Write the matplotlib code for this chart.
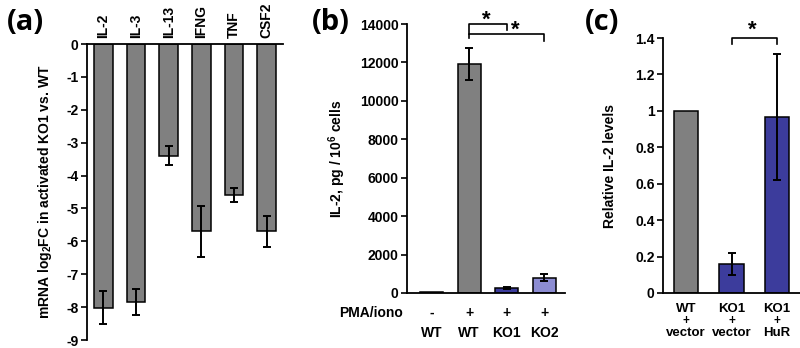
"""Three-panel IL-2 expression figure: (a) mRNA log2FC, (b) ELISA, (c) rescue."""

import matplotlib
matplotlib.use("Agg")
import matplotlib.pyplot as plt

plt.rcParams["font.family"] = ["Liberation Sans", "DejaVu Sans"]
plt.rcParams["font.weight"] = "bold"
plt.rcParams["axes.unicode_minus"] = False
plt.rcParams["mathtext.fontset"] = "custom"
plt.rcParams["mathtext.rm"] = "Liberation Sans:bold"
plt.rcParams["mathtext.bf"] = "Liberation Sans:bold"

# panel (a)
genes = ["IL-2", "IL-3", "IL-13", "IFNG", "TNF", "CSF2"]
log2fc = [-8.02, -7.85, -3.40, -5.70, -4.60, -5.70]
log2fc_err = [0.50, 0.40, 0.29, 0.77, 0.21, 0.47]

# panel (b)
b_pma = ["-", "+", "+", "+"]
b_cells = ["WT", "WT", "KO1", "KO2"]
il2_pg = [30, 11920, 260, 800]
il2_pg_err = [None, 850, 50, 200]

# panel (c)
c_cells = ["WT", "KO1", "KO1"]
c_constructs = ["vector", "vector", "HuR"]
rel_il2 = [1.0, 0.16, 0.965]
rel_il2_err = [None, 0.06, 0.345]

GRAY = "#808080"
DARK_BLUE = "#3c3c9c"
LIGHT_BLUE = "#8c8cd2"
W, H = 800.0, 348.0
FS = 10
LFS = 10
ERR_KW = dict(ecolor="black", elinewidth=1.4, capsize=3, capthick=1.4)


def px_axes(fig, left, right, top, bottom):
    return fig.add_axes([left / W, 1 - bottom / H, (right - left) / W, (bottom - top) / H])


def bold_ticks(ax):
    for lab in ax.get_xticklabels() + ax.get_yticklabels():
        lab.set_fontweight("bold")


def style_axes(ax):
    for side in ["top", "right"]:
        ax.spines[side].set_visible(False)
    for side in ["left", "bottom"]:
        ax.spines[side].set_linewidth(1.3)
    ax.tick_params(axis="y", labelsize=FS, length=4, width=1.2, pad=2)
    ax.tick_params(axis="x", length=0, labelbottom=False)


def add_errors(ax, values, errors):
    idx = [i for i, e in enumerate(errors) if e is not None]
    ax.errorbar(idx, [values[i] for i in idx], yerr=[errors[i] for i in idx],
                fmt="none", **ERR_KW)


def bracket(ax, x0, x1, y, y0_end, y1_end):
    ax.plot([x0, x0, x1, x1], [y0_end, y, y, y1_end], color="black",
            linewidth=1.2, clip_on=False)


def star(ax, x, y):
    ax.text(x, y, "*", ha="center", va="center", fontsize=16, fontweight="bold")


fig = plt.figure(figsize=(8.0, 3.48), dpi=100)

# (a)
ax_a = px_axes(fig, 87, 283, 44, 340)
ax_a.bar(range(len(genes)), log2fc, width=0.58, color=GRAY, edgecolor="black",
         linewidth=1.1)
add_errors(ax_a, log2fc, log2fc_err)
ax_a.set_xlim(-0.5, len(genes) - 0.5)
ax_a.set_ylim(-9, 0)
ax_a.set_yticks(range(-9, 1))
ax_a.spines["bottom"].set_visible(False)
ax_a.spines["right"].set_visible(False)
ax_a.spines["top"].set_linewidth(1.3)
ax_a.spines["left"].set_linewidth(1.3)
ax_a.xaxis.tick_top()
ax_a.set_xticks(range(len(genes)))
ax_a.set_xticklabels(genes, rotation=90, fontsize=FS)
ax_a.tick_params(axis="x", length=0, pad=4)
ax_a.tick_params(axis="y", labelsize=FS, length=4, width=1.2, pad=2)
bold_ticks(ax_a)
ax_a.set_ylabel(r"mRNA log$_{\mathbf{2}}$FC in activated KO1 vs. WT",
                fontsize=LFS, fontweight="bold")
ax_a.yaxis.set_label_coords(-0.17, 0.5)

# (b)
ax_b = px_axes(fig, 407, 565, 24, 293)
ax_b.bar(range(len(il2_pg)), il2_pg, width=0.61,
         color=[GRAY, GRAY, DARK_BLUE, LIGHT_BLUE], edgecolor="black",
         linewidth=1.1)
add_errors(ax_b, il2_pg, il2_pg_err)
ax_b.set_xlim(-0.65, 3.55)
ax_b.set_ylim(0, 14000)
ax_b.set_yticks(range(0, 14001, 2000))
style_axes(ax_b)
bold_ticks(ax_b)
ax_b.set_ylabel(r"IL-2, pg / 10$^{\mathbf{6}}$ cells", fontsize=LFS, fontweight="bold")
ax_b.yaxis.set_label_coords(-0.373, 0.5)
for i, (sign, cell) in enumerate(zip(b_pma, b_cells)):
    ax_b.annotate(sign, xy=(i, 0), xycoords=ax_b.get_xaxis_transform(),
                  xytext=(0, -20), textcoords="offset pixels",
                  ha="center", va="center", fontsize=FS, fontweight="bold")
    ax_b.annotate(cell, xy=(i, 0), xycoords=ax_b.get_xaxis_transform(),
                  xytext=(0, -40), textcoords="offset pixels",
                  ha="center", va="center", fontsize=FS, fontweight="bold")
fig.text(403 / W, 1 - 313 / H, "PMA/iono", ha="right", va="center",
         fontsize=FS, fontweight="bold")
bracket(ax_b, 1, 2, 14000, 13480, 13690)
bracket(ax_b, 1, 3, 13480, 13270, 13110)
star(ax_b, 1.45, 14200)
star(ax_b, 2.22, 13680)

# (c)
ax_c = px_axes(fig, 663, 800, 38, 293)
ax_c.bar(range(len(rel_il2)), rel_il2, width=0.53,
         color=[GRAY, DARK_BLUE, DARK_BLUE], edgecolor="black", linewidth=1.1)
add_errors(ax_c, rel_il2, rel_il2_err)
ax_c.set_xlim(-0.5, 2.5)
ax_c.set_ylim(0, 1.4)
ax_c.set_yticks([0, 0.2, 0.4, 0.6, 0.8, 1.0, 1.2, 1.4])
ax_c.set_yticklabels(["0", "0.2", "0.4", "0.6", "0.8", "1", "1.2", "1.4"])
style_axes(ax_c)
bold_ticks(ax_c)
ax_c.set_ylabel("Relative IL-2 levels", fontsize=LFS, fontweight="bold")
ax_c.yaxis.set_label_coords(-0.336, 0.5)
for i, (cell, construct) in enumerate(zip(c_cells, c_constructs)):
    for text, off, fs in [(cell, -16, 9.5), ("+", -28, 8.5), (construct, -40, 9.5)]:
        ax_c.annotate(text, xy=(i, 0), xycoords=ax_c.get_xaxis_transform(),
                      xytext=(0, off), textcoords="offset pixels",
                      ha="center", va="center", fontsize=fs, fontweight="bold")
bracket(ax_c, 1, 2, 1.4, 1.367, 1.367)
star(ax_c, 1.46, 1.44)

# panel letters
for label, x in [("(a)", 25), ("(b)", 331), ("(c)", 602)]:
    fig.text(x / W, 1 - 22 / H, label, ha="center", va="center",
             fontsize=21, fontweight="bold", family=["Open Sans", "DejaVu Sans"])

fig.savefig("out.png", dpi=100)
